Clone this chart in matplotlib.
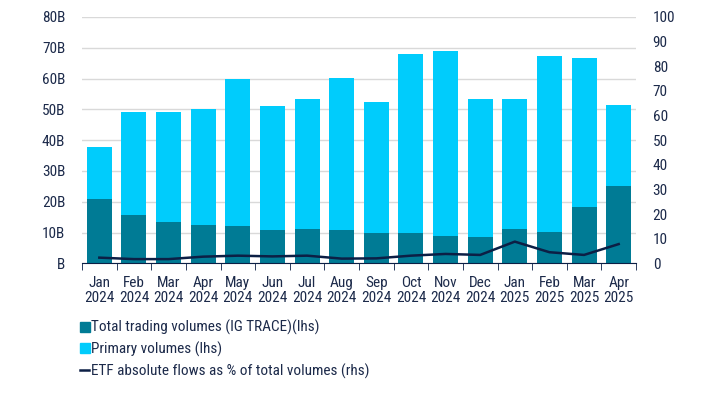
import matplotlib
matplotlib.use("Agg")
import matplotlib.pyplot as plt
import numpy as np
from matplotlib.lines import Line2D

months = ["Jan\n2024", "Feb\n2024", "Mar\n2024", "Apr\n2024", "May\n2024", "Jun\n2024",
          "Jul\n2024", "Aug\n2024", "Sep\n2024", "Oct\n2024", "Nov\n2024", "Dec\n2024",
          "Jan\n2025", "Feb\n2025", "Mar\n2025", "Apr\n2025"]
trading = [20.8, 15.6, 13.4, 12.4, 12.1, 10.8, 11.1, 10.8, 9.8, 9.8, 8.9, 8.5, 11.0, 10.2, 18.2, 25.2]
totals = [37.9, 49.1, 49.1, 50.1, 59.8, 51.1, 53.4, 60.1, 52.4, 68.1, 69.1, 53.4, 53.4, 67.4, 66.6, 51.4]
primary = [t - d for t, d in zip(totals, trading)]
etf_pct = [2.3, 1.7, 1.7, 2.7, 3.1, 2.8, 3.1, 1.9, 2.0, 3.1, 3.8, 3.4, 8.8, 4.5, 3.4, 7.8]
left_ticks = [0, 10, 20, 30, 40, 50, 60, 70, 80]
left_labels = ["B", "10B", "20B", "30B", "40B", "50B", "60B", "70B", "80B"]
right_ticks = [0, 10, 20, 30, 40, 50, 60, 70, 80, 90, 100]

dark = "#007b95"
light = "#00ccfc"
navy = "#0c1f45"
txt = "#1c2a4a"
fs = 11

plt.rcParams['font.family'] = ['Roboto Condensed', 'Liberation Sans', 'DejaVu Sans']

fig = plt.figure(figsize=(7.2, 3.93), dpi=100)
ax = fig.add_axes([82/720, 1-263.3/393, (636-82)/720, (263.3-17)/393])
x = np.arange(len(months))
ax.bar(x, trading, width=0.72, color=dark, zorder=2)
ax.bar(x, primary, width=0.72, bottom=trading, color=light, zorder=2)
ax.set_xlim(-0.5, len(months)-0.5)
ax.set_ylim(0, 80)
ax.set_yticks(left_ticks)
ax.set_yticklabels(left_labels)
ax.yaxis.grid(True, color="#d9d9d9", linewidth=1, zorder=0)
ax.set_axisbelow(True)
for s in ["left", "right", "top"]:
    ax.spines[s].set_visible(False)
ax.spines["bottom"].set_color(navy)
ax.tick_params(axis="y", length=0, labelsize=fs, labelcolor=txt, pad=12)
ax.set_xticks(x)
ax.set_xticklabels(months, linespacing=1.1)
ax.tick_params(axis="x", which="major", length=0, labelsize=fs, labelcolor=txt, pad=9)
ax.set_xticks(np.arange(-0.5, len(months), 1), minor=True)
ax.tick_params(axis="x", which="minor", length=5, color=navy, direction="out")

ax2 = ax.twinx()
ax2.plot(x, etf_pct, color=navy, linewidth=1.8, zorder=3)
ax2.set_ylim(0, 100)
ax2.set_yticks(right_ticks)
for s in ["left", "right", "top", "bottom"]:
    ax2.spines[s].set_visible(False)
ax2.tick_params(axis="y", length=0, labelsize=fs, labelcolor=txt, pad=12)

handles = [
    Line2D([], [], marker="s", color=dark, linestyle="none", markersize=6.5),
    Line2D([], [], marker="s", color=light, linestyle="none", markersize=6.5),
    Line2D([], [], color=navy, linewidth=1.8),
]
labels = ["Total trading volumes (IG TRACE)(lhs)", "Primary volumes (lhs)",
          "ETF absolute flows as % of total volumes (rhs)"]
leg = fig.legend(handles, labels, loc="upper left", bbox_to_anchor=(80/720, 1-320/393),
                 frameon=False, fontsize=fs, handlelength=0.6, handletextpad=0.15,
                 labelspacing=0.42, borderaxespad=0, borderpad=0)
for t in leg.get_texts():
    t.set_color(txt)

fig.savefig("out.png", dpi=100)
